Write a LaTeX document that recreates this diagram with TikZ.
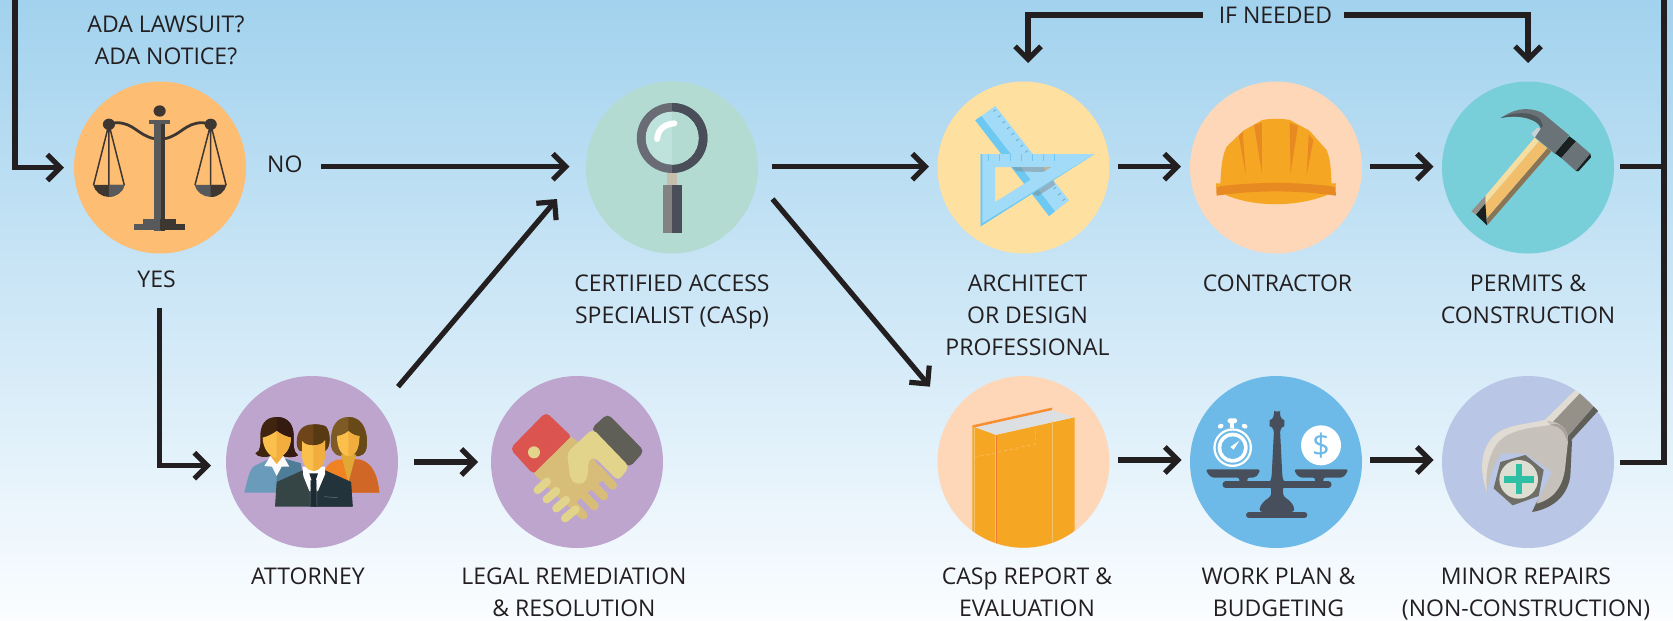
\documentclass[tikz,border=0pt]{standalone}
\usepackage{fontspec}
\setmainfont{Open Sans}
\usetikzlibrary{arrows.meta}
\definecolor{ink}{HTML}{231F20}
\definecolor{bgtop}{HTML}{A2D2EE}
\definecolor{bgmid}{HTML}{C8E3F4}
\definecolor{bgbot}{HTML}{FBFDFF}
\definecolor{discOrange}{HTML}{FDBD73}
\definecolor{discMint}{HTML}{B3DBD2}
\definecolor{discYellow}{HTML}{FEE0A0}
\definecolor{discPeach}{HTML}{FDD7B8}
\definecolor{discTeal}{HTML}{78CFDA}
\definecolor{discPurple}{HTML}{BEA5CE}
\definecolor{discPeri}{HTML}{B9C6E5}
\definecolor{iconDark}{HTML}{3E3731}
\definecolor{iconMid}{HTML}{58595B}
\definecolor{steelA}{HTML}{696B75}
\definecolor{steelB}{HTML}{4A4E59}
\definecolor{neckTan}{HTML}{C7BFAD}
\definecolor{handleGrey}{HTML}{838283}
\definecolor{lensA}{HTML}{BEE3DC}
\definecolor{rulerMain}{HTML}{A2DBF8}
\definecolor{rulerEdge}{HTML}{6DC9F1}
\definecolor{rulerTick}{HTML}{6FA9C4}
\definecolor{hardhat}{HTML}{F5A623}
\definecolor{hardhatDk}{HTML}{E88A22}
\definecolor{slate}{HTML}{484F5C}
\definecolor{skyblue}{HTML}{6DBAE8}
\definecolor{hammerGrey}{HTML}{6A7478}
\definecolor{hammerDk}{HTML}{4F585D}
\definecolor{hammerLt}{HTML}{C7D3D8}
\definecolor{blackish}{HTML}{1A1F1F}
\definecolor{woodMain}{HTML}{F1BF6C}
\definecolor{woodLight}{HTML}{F6DDA2}
\definecolor{woodBrown}{HTML}{8A7456}
\definecolor{wrLight}{HTML}{E0DBD3}
\definecolor{wrMain}{HTML}{C7C1BB}
\definecolor{wrMid}{HTML}{959088}
\definecolor{wrShade}{HTML}{A8A29B}
\definecolor{wrDark}{HTML}{5F5E57}
\definecolor{boltHex}{HTML}{6F6E67}
\definecolor{boltHead}{HTML}{DEDFD3}
\definecolor{plusTeal}{HTML}{2EBFA5}
\definecolor{skinA}{HTML}{FBBF4C}
\definecolor{skinB}{HTML}{F1AE3E}
\definecolor{neckSkin}{HTML}{E2A835}
\definecolor{hairLa}{HTML}{3F2510}
\definecolor{hairLb}{HTML}{351A12}
\definecolor{hairRa}{HTML}{7E5A25}
\definecolor{hairRb}{HTML}{684918}
\definecolor{hairMa}{HTML}{6E4518}
\definecolor{hairMb}{HTML}{583A12}
\definecolor{shirtA}{HTML}{6A9BBA}
\definecolor{shirtB}{HTML}{4F7C97}
\definecolor{dressA}{HTML}{F08224}
\definecolor{dressB}{HTML}{D16726}
\definecolor{suitA}{HTML}{354546}
\definecolor{suitB}{HTML}{22333B}
\definecolor{tieDk}{HTML}{1C2A33}
\definecolor{tieLn}{HTML}{6C7A7F}
\definecolor{cuffRed}{HTML}{DC544F}
\definecolor{tanHand}{HTML}{D8BD78}
\definecolor{lightHand}{HTML}{E2D48A}
\definecolor{pagesGrey}{HTML}{DDE0E3}
\definecolor{bookEdge}{HTML}{F78E32}
\definecolor{bookLine}{HTML}{F6C36B}
\definecolor{bookRed}{HTML}{EE7B30}
\newcommand\twotone[4]{\fill[#3] #1; \begin{scope}\clip (#2,-3000) rectangle (3000,3000); \fill[#4] #1;\end{scope}}
\tikzset{
  disc/.style={circle,minimum size=172pt,inner sep=0pt,outer sep=0pt},
  lbl/.style={inner sep=0pt,outer sep=0pt,anchor=base,align=center,text=ink,font=\fontsize{23}{32}\selectfont},
  wire/.style={draw=ink,line width=5.2pt,line join=miter},
  flow/.style={wire,-{Straight Barb[length=13pt,width=26pt,line width=5.2pt]}},
  zoomA/.style={x=.357143pt,y=-.333333pt},
  zoomB/.style={x=.333333pt,y=-.333333pt}
}
\begin{document}
\begin{tikzpicture}[x=1pt,y=-1pt]
\useasboundingbox (0,0) rectangle (1673,621);
\shade[top color=bgtop,middle color=bgmid,bottom color=bgbot] (0,0) rectangle (1673,621);
% discs
\node[disc,fill=discOrange] (scales) at (160,167.5) {};
\node[disc,fill=discMint] (casp) at (672,167.5) {};
\node[disc,fill=discYellow] (arch) at (1023.5,167.5) {};
\node[disc,fill=discPeach] (contr) at (1276,167.5) {};
\node[disc,fill=discTeal] (permits) at (1528,167.5) {};
\node[disc,fill=discPurple] (atty) at (312,462) {};
\node[disc,fill=discPurple] (legal) at (577,462) {};
\node[disc,fill=discPeach] (report) at (1023.5,462) {};
\node[disc,fill=skyblue] (work) at (1276,462) {};
\node[disc,fill=discPeri] (minor) at (1528,462) {};
% labels (anchor base = last line)
\node[lbl] (t1) at (166,64.3) {ADA LAWSUIT?\\ADA NOTICE?};
\node[lbl] (no) at (284.8,172.3) {NO};
\node[lbl] (yes) at (156.6,287.7) {YES};
\node[lbl] (t2) at (672,323) {CERTIFIED ACCESS\\SPECIALIST (CASp)};
\node[lbl] (t3) at (1027.5,355) {ARCHITECT\\OR DESIGN\\PROFESSIONAL};
\node[lbl] (t4) at (1277.5,291) {CONTRACTOR};
\node[lbl] (t5) at (1528,323) {PERMITS \&\\CONSTRUCTION};
\node[lbl] (t6) at (308,584) {ATTORNEY};
\node[lbl] (t7) at (574,616.7) {LEGAL REMEDIATION\\\& RESOLUTION};
\node[lbl] (t8) at (1027,616) {CASp REPORT \&\\EVALUATION};
\node[lbl] (t9) at (1278.5,616) {WORK PLAN \&\\BUDGETING};
\node[lbl] (t10) at (1526,616) {MINOR REPAIRS\\(NON-CONSTRUCTION)};
\node[lbl] (ifn) at (1275.5,23.3) {IF NEEDED};
% free ends
\coordinate (loopTop) at (15,-3);
\coordinate (noOut) at (321.4,166.7);
\coordinate (yesOut) at (159.6,308);
\coordinate (attyOut) at (398,386.7);
\coordinate (caspIn) at (557,199);
\coordinate (caspOut) at (772.5,199);
\coordinate (reportIn) at (930,386.7);
\coordinate (railTop) at (1664,-3);
\coordinate (railBot) at (1664,462.7);
% connectors
\draw[flow,shorten >=10pt] (loopTop) |- (scales);
\draw[flow,shorten >=16.5pt] (noOut) -- ([yshift=.8pt]casp.west);
\draw[flow,shorten >=15pt] (yesOut) |- ([yshift=-3.7pt]atty.west);
\draw[flow] (attyOut) -- (caspIn);
\draw[flow] (caspOut) -- (reportIn);
\draw[flow,shorten <=16pt,shorten >=13pt] (atty) -- (legal);
\draw[flow,shorten <=13.5pt,shorten >=8.5pt] ([yshift=.8pt]casp.east) -- ([yshift=.8pt]arch.west);
\draw[flow,shorten <=8.5pt,shorten >=9pt] ([yshift=.8pt]arch.east) -- ([yshift=.8pt]contr.west);
\draw[flow,shorten <=8pt,shorten >=8.5pt] ([yshift=.8pt]contr.east) -- ([yshift=.8pt]permits.west);
\draw[flow,shorten <=8pt,shorten >=8.5pt] ([yshift=2pt]report.east) -- ([yshift=2pt]work.west);
\draw[flow,shorten <=8pt,shorten >=8.5pt] ([yshift=2pt]work.east) -- ([yshift=2pt]minor.west);
\draw[flow,shorten <=16pt,shorten >=18.5pt] (ifn.west) -| ([xshift=4.5pt]arch.north);
\draw[flow,shorten <=12pt,shorten >=18.5pt] (ifn.east) -| (permits.north);
\draw[wire,shorten <=6pt] ([yshift=.8pt]permits.east) -- ([yshift=.8pt]permits.east -| railTop);
\draw[wire,shorten >=6pt] (railTop) -- (railBot) -- ([yshift=-.7pt]minor.east);
% ------- scales of justice
\begin{scope}[zoomA]
\fill[iconMid] (417,360) rectangle (476,372);
\fill[iconMid] (431,372) rectangle (451,692);
\fill[iconDark] (451,372) rectangle (462,692);
\fill[iconMid] (400,657) rectangle (447,672);
\fill[iconDark] (447,657) rectangle (493,672);
\fill[iconMid] (375,672) rectangle (447,690);
\fill[iconDark] (447,672) rectangle (518,690);
\fill[iconDark] (447,333) ellipse [x radius=17,y radius=17];
\draw[iconDark,line width=2.8pt] (431,416) .. controls (385,405) and (375,368) .. (325,368) -- (305,373);
\draw[iconDark,line width=2.8pt] (462,416) .. controls (508,405) and (518,368) .. (568,368) -- (590,373);
\fill[iconDark] (305,373) ellipse [x radius=17,y radius=17];
\fill[iconDark] (590,373) ellipse [x radius=17,y radius=17];
\draw[iconDark,line width=1.5pt] (262,555) -- (305,373) -- (348,555) (305,373) -- (305,555);
\draw[iconDark,line width=1.5pt] (546,555) -- (590,373) -- (633,555) (590,373) -- (590,555);
\twotone{(261,555) .. controls (265,575) and (285,591) .. (305,591) .. controls (325,591) and (345,575) .. (349,555) -- cycle}{305}{iconDark}{iconMid}
\twotone{(545,555) .. controls (549,575) and (569,591) .. (590,591) .. controls (611,591) and (630,575) .. (634,555) -- cycle}{590}{iconMid}{iconDark}
\end{scope}
% ------- magnifier
\begin{scope}[zoomA,shift={(560pt,0pt)}]
\twotone{(215,414) .. controls (215,355) and (260,309) .. (314,309) .. controls (368,309) and (413,355) .. (413,414) .. controls (413,473) and (368,519) .. (314,519) .. controls (260,519) and (215,473) .. (215,414) -- cycle}{314}{steelA}{steelB}
\twotone{(240,414) .. controls (240,370) and (273,335) .. (314,335) .. controls (355,335) and (388,370) .. (388,414) .. controls (388,458) and (355,494) .. (314,494) .. controls (273,494) and (240,458) .. (240,414) -- cycle}{314}{lensA}{discMint}
\draw[white,line width=6pt,line cap=round] (272,417) .. controls (274,388) and (292,373) .. (320,370);
\fill[neckTan] (300,520) rectangle (328,555);
\fill[handleGrey] (288,555) rectangle (314,698);
\fill[steelB] (314,555) rectangle (342,698);
\end{scope}
% ------- ruler and set square
\begin{scope}[zoomB,shift={(938pt,-82pt)}]
\fill[rulerMain] (172,72) -- (112,115) -- (333,402) -- (393,355) -- cycle;
\fill[rulerEdge] (112,115) -- (130,102) -- (351,388) -- (333,402) -- cycle;
\foreach \i in {0,...,7} \draw[rulerTick,line width=.8pt] ({166+13.6*\i},{88+17.6*\i}) -- ++(8,-5);
\draw[rulerTick,line width=.8pt] (346,321) -- ++(8,-5) (360,339) -- ++(8,-5) (373,356) -- ++(8,-5);
\fill[rulerMain,even odd rule] (128,216) -- (470,216) -- (128,433) -- cycle (171,255) -- (340,255) -- (171,360) -- cycle;
\fill[gray,opacity=.45] (222,255) -- (340,255) -- (315,270) -- (235,268) -- cycle;
\fill[gray,opacity=.45] (345,295) -- (283,335) -- (300,342) -- (352,308) -- cycle;
\fill[rulerEdge] (128,433) -- (470,216) -- (133,424) -- (133,216) -- (128,216) -- cycle;
\foreach \x in {152,185,218,251,284,317,350} \draw[rulerEdge,line width=1.6pt] (\x,216) -- (\x,237);
\end{scope}
% ------- helmet
\begin{scope}[zoomA,shift={(1113pt,0pt)}]
\fill[hardhat] (315,585) .. controls (400,622) and (510,622) .. (600,585) -- (600,560) -- (315,560) -- cycle;
\fill[hardhat] (300,560) .. controls (303,500) and (305,470) .. (318,440) -- (365,392) -- (418,360) .. controls (445,355) and (470,355) .. (495,360) -- (550,392) -- (598,450) .. controls (610,480) and (610,510) .. (612,560) -- cycle;
\fill[hardhatDk] (352,408) -- (363,396) -- (372,525) -- cycle;
\fill[hardhatDk] (395,375) -- (417,368) -- (417,520) -- cycle;
\fill[hardhatDk] (495,368) -- (518,378) -- (497,520) -- cycle;
\fill[hardhatDk] (548,403) -- (561,420) -- (542,525) -- cycle;
\fill[hardhatDk] (289,560) .. controls (400,545) and (510,545) .. (623,560) -- (624,587) .. controls (510,570) and (400,570) .. (290,587) -- cycle;
\fill[hardhat] (288,550) -- (310,550) -- (300,557) -- (289,562) -- cycle;
\fill[hardhat] (624,550) -- (602,550) -- (612,557) -- (623,562) -- cycle;
\end{scope}
% ------- hammer
\begin{scope}[zoomB,shift={(1442pt,-82pt)}]
\fill[woodBrown] (316,198) -- (328,208) -- (135,430) -- (135,408) -- cycle;
\fill[woodMain] (290,178) -- (316,198) -- (135,408) -- (135,430) -- (130,365) -- cycle;
\fill[woodLight] (278,167) -- (290,178) -- (130,365) -- (130,342) -- cycle;
\fill[wrMid] (130,342) -- (130,365) -- (102,398) -- (88,388) -- cycle;
\fill[blackish] (130,365) -- (135,430) -- (102,398) -- cycle;
\fill[blackish] (382,163) -- (402,178) -- (358,228) -- (338,213) -- cycle;
\fill[hammerGrey] (402,178) -- (445,215) -- (402,267) -- (358,228) -- cycle;
\fill[blackish] (445,215) -- (447,226) -- (410,267) -- (402,267) -- cycle;
\fill[hammerGrey] (176,108) .. controls (210,85) and (250,70) .. (300,92) -- (382,160) -- (338,215) -- (278,165) -- (296,138) .. controls (290,115) and (240,95) .. (176,108) -- cycle;
\fill[hammerDk] (176,108) .. controls (215,88) and (270,88) .. (295,112) -- (303,132) -- (296,138) .. controls (290,115) and (240,95) .. (176,108) -- cycle;
\fill[hammerLt] (268,155) -- (285,137) -- (296,140) -- (278,167) -- cycle;
\end{scope}
% ------- people
\begin{scope}[zoomB,shift={(226pt,-376pt)}]
\twotone{(295,285) .. controls (305,260) and (325,250) .. (347,250) -- (395,250) .. controls (440,255) and (455,300) .. (460,350) -- (300,350) -- cycle}{367}{dressA}{dressB}
\twotone{(367,123) .. controls (330,123) and (315,155) .. (315,190) .. controls (312,215) and (320,238) .. (345,240) -- (400,240) .. controls (420,235) and (423,220) .. (423,190) .. controls (420,155) and (405,123) .. (367,123) -- cycle}{367}{hairRa}{hairRb}
\fill[neckSkin] (345,235) -- (390,235) -- (367,320) -- cycle;
\twotone{(333,180) .. controls (350,178) and (362,170) .. (367,165) .. controls (378,175) and (390,180) .. (400,180) .. controls (400,215) and (390,240) .. (367,240) .. controls (345,240) and (333,215) .. (333,180) -- cycle}{367}{skinA}{skinB}
\twotone{(55,350) .. controls (65,310) and (70,280) .. (85,270) -- (130,248) -- (175,248) -- (225,262) -- (235,350) -- cycle}{152}{shirtA}{shirtB}
\twotone{(152,123) .. controls (115,123) and (103,150) .. (103,180) .. controls (103,205) and (105,225) .. (88,232) .. controls (95,245) and (120,245) .. (135,240) -- (170,240) .. controls (185,245) and (205,245) .. (216,238) .. controls (200,225) and (203,205) .. (203,180) .. controls (203,150) and (190,123) .. (152,123) -- cycle}{152}{hairLa}{hairLb}
\fill[skinB] (133,236) -- (172,236) -- (152,300) -- cycle;
\twotone{(110,185) .. controls (130,180) and (145,170) .. (152,165) .. controls (165,175) and (180,182) .. (195,185) .. controls (195,215) and (175,245) .. (152,245) .. controls (130,245) and (110,215) .. (110,185) -- cycle}{152}{skinA}{skinB}
\fill[white!95!gray] (133,240) -- (115,270) -- (138,272) -- (152,300) -- (167,272) -- (190,272) -- (172,240) -- (152,265) -- cycle;
\twotone{(147,392) -- (152,318) -- (230,283) -- (297,283) -- (375,318) -- (380,392) -- cycle}{262}{suitA}{suitB}
\fill[white] (230,272) -- (297,272) -- (297,295) -- (276,345) -- (250,345) -- (232,300) -- cycle;
\fill[tieDk] (250,292) -- (276,292) -- (270,310) -- (274,392) -- (251,392) -- (256,310) -- cycle;
\draw[tieLn,line width=.5pt] (295,362) -- (335,365) (253,312) -- (252,392) (272,312) -- (273,392);
\twotone{(262,145) .. controls (225,145) and (212,170) .. (212,200) .. controls (213,220) and (220,228) .. (228,225) -- (297,225) .. controls (315,215) and (315,170) .. (300,152) .. controls (292,147) and (280,145) .. (262,145) -- cycle}{262}{hairMa}{hairMb}
\twotone{(228,195) .. controls (235,205) and (250,208) .. (262,208) .. controls (275,208) and (290,205) .. (297,193) -- (297,235) .. controls (297,265) and (280,285) .. (262,285) .. controls (244,285) and (228,265) .. (228,235) -- cycle}{262}{skinA}{skinB}
\end{scope}
% ------- handshake
\begin{scope}[zoomB,shift={(491pt,-376pt)}]
\fill[cuffRed,rounded corners=5pt] (165,108) -- (245,185) -- (128,296) -- (57,218) -- cycle;
\fill[wrDark,rounded corners=5pt] (350,113) -- (460,225) -- (415,275) -- (300,158) -- cycle;
\fill[lightHand] (129,229) ellipse [x radius=18,y radius=18];
\fill[tanHand] (240,182) -- (128,293) -- (235,395) -- (350,300) -- (300,240) -- (262,198) -- cycle;
\draw[tanHand,line width=8.7pt,line cap=round] (365,328) -- (320,280) (338,360) -- (290,310) (310,390) -- (262,340) (277,418) -- (240,380);
\fill[lightHand,rounded corners=5pt] (305,158) -- (415,272) -- (382,315) -- (310,243) -- (292,250) .. controls (292,280) and (292,320) .. (255,325) -- (238,310) -- (228,230) -- cycle;
\draw[lightHand,line width=8.2pt,line cap=round] (140,342) -- (168,317) (167,370) -- (196,345) (196,397) -- (225,372) (222,427) -- (254,400);
\end{scope}
% ------- book
\begin{scope}[zoomB,shift={(880pt,-340pt)}]
\clip (430.5,366) circle [radius=257];
\fill[hardhat] (277,256) -- (347,285) -- (584,232) -- (584,700) -- (277,700) -- cycle;
\fill[pagesGrey] (285,262) -- (515,210) -- (582,232) -- (347,284) -- cycle;
\fill[bookEdge] (277,256) -- (515,203) -- (517,210) -- (285,262) -- cycle;
\draw[bookLine,line width=.6pt] (284,265) -- (284,620) (518,243) -- (518,640) (345,287) -- (345,640);
\draw[bookRed,line width=.5pt] (349,287) -- (349,640);
\draw[bookLine,line width=.6pt,dashed] (284,352) -- (466,312) -- (466,262);
\end{scope}
% ------- balance
\begin{scope}[zoomB,shift={(1190pt,-376pt)}]
\fill[slate,rounded corners=3pt] (252,110) -- (252,98) arc [start angle=180,end angle=0,radius=9] -- (270,122) .. controls (275,128) and (283,132) .. (283,142) .. controls (283,150) and (275,155) .. (270,160) -- (277,300) .. controls (280,315) and (285,318) .. (295,318) -- (278,335) -- (280,362) .. controls (295,370) and (312,385) .. (313,408) -- (208,408) .. controls (210,385) and (228,370) .. (243,362) -- (244,335) -- (228,318) .. controls (238,318) and (242,315) .. (245,300) -- (252,160) .. controls (247,155) and (239,150) .. (239,142) .. controls (239,132) and (247,128) .. (252,122) -- cycle;
\draw[slate,line width=6pt,line cap=round] (177,417) -- (343,417);
\draw[slate,line width=6.4pt,line cap=round] (107,326) -- (415,326);
\fill[slate,rounded corners=2pt] (48,280) -- (210,280) -- (207,292) -- (195,305) -- (172,305) -- (172,320) -- (148,320) -- (148,305) -- (65,305) -- (52,292) -- cycle;
\fill[slate,rounded corners=2pt] (313,280) -- (474,280) -- (470,292) -- (458,305) -- (400,305) -- (400,320) -- (375,320) -- (375,305) -- (330,305) -- (316,292) -- cycle;
\fill[white] (128,215) circle [radius=58];
\fill[skyblue] (128,215) circle [radius=51];
\fill[white] (128,215) circle [radius=45];
\fill[skyblue] (128,215) circle [radius=34];
\fill[white] (121,213) -- (148,194) -- (131,221) -- cycle;
\fill[white,rounded corners=1.5pt] (113,127) rectangle (141,141);
\fill[white] (121,141) rectangle (133,157);
\fill[white,rounded corners=1.5pt] (81,150) -- (95,141) -- (103,151) -- (89,160) -- cycle;
\fill[white,rounded corners=1.5pt] (175,150) -- (161,141) -- (153,151) -- (167,160) -- cycle;
\fill[white] (393,208) circle [radius=60];
\node[inner sep=0pt,text=skyblue,font=\fontsize{31}{31}\selectfont] (dollar) at (393,208) {\$};
\end{scope}
% ------- wrench
\begin{scope}[zoomB,shift={(1442pt,-376pt)}]
\fill[wrMid] (413,52) -- (455,92) -- (378,178) -- (325,140) -- cycle;
\fill[wrDark] (455,92) -- (468,105) -- (388,192) -- (378,180) -- cycle;
\fill[wrLight] (310,130) -- (400,42) -- (413,52) -- (325,145) -- cycle;
\fill[wrDark] (378,178) -- (390,195) -- (385,300) .. controls (375,370) and (320,400) .. (270,408) -- (283,380) -- (340,300) -- cycle;
\fill[wrMain] (135,348) .. controls (105,270) and (120,190) .. (185,160) .. controls (225,142) and (280,142) .. (320,135) .. controls (360,140) and (378,160) .. (378,195) -- (370,270) .. controls (365,330) and (335,370) .. (283,383) -- (330,288) -- (250,233) -- (180,232) .. controls (155,260) and (145,300) .. (135,348) -- cycle;
\fill[wrLight] (135,348) .. controls (105,270) and (120,190) .. (185,160) .. controls (225,142) and (280,142) .. (310,130) -- (325,147) .. controls (270,155) and (190,160) .. (160,210) .. controls (135,250) and (130,300) .. (135,348) -- cycle;
\fill[wrShade] (322,147) .. controls (360,135) and (378,160) .. (378,198) -- (365,170) .. controls (355,155) and (340,148) .. (322,147) -- cycle;
\fill[boltHex] (250,237) -- (305,282) -- (290,360) -- (212,388) -- (155,337) -- (175,258) -- cycle;
\fill[boltHead] (230,310) circle [radius=58];
\fill[plusTeal] (187,300) rectangle (275,320);
\fill[plusTeal] (222,265) rectangle (241,354);
\end{scope}
\end{tikzpicture}
\end{document}
